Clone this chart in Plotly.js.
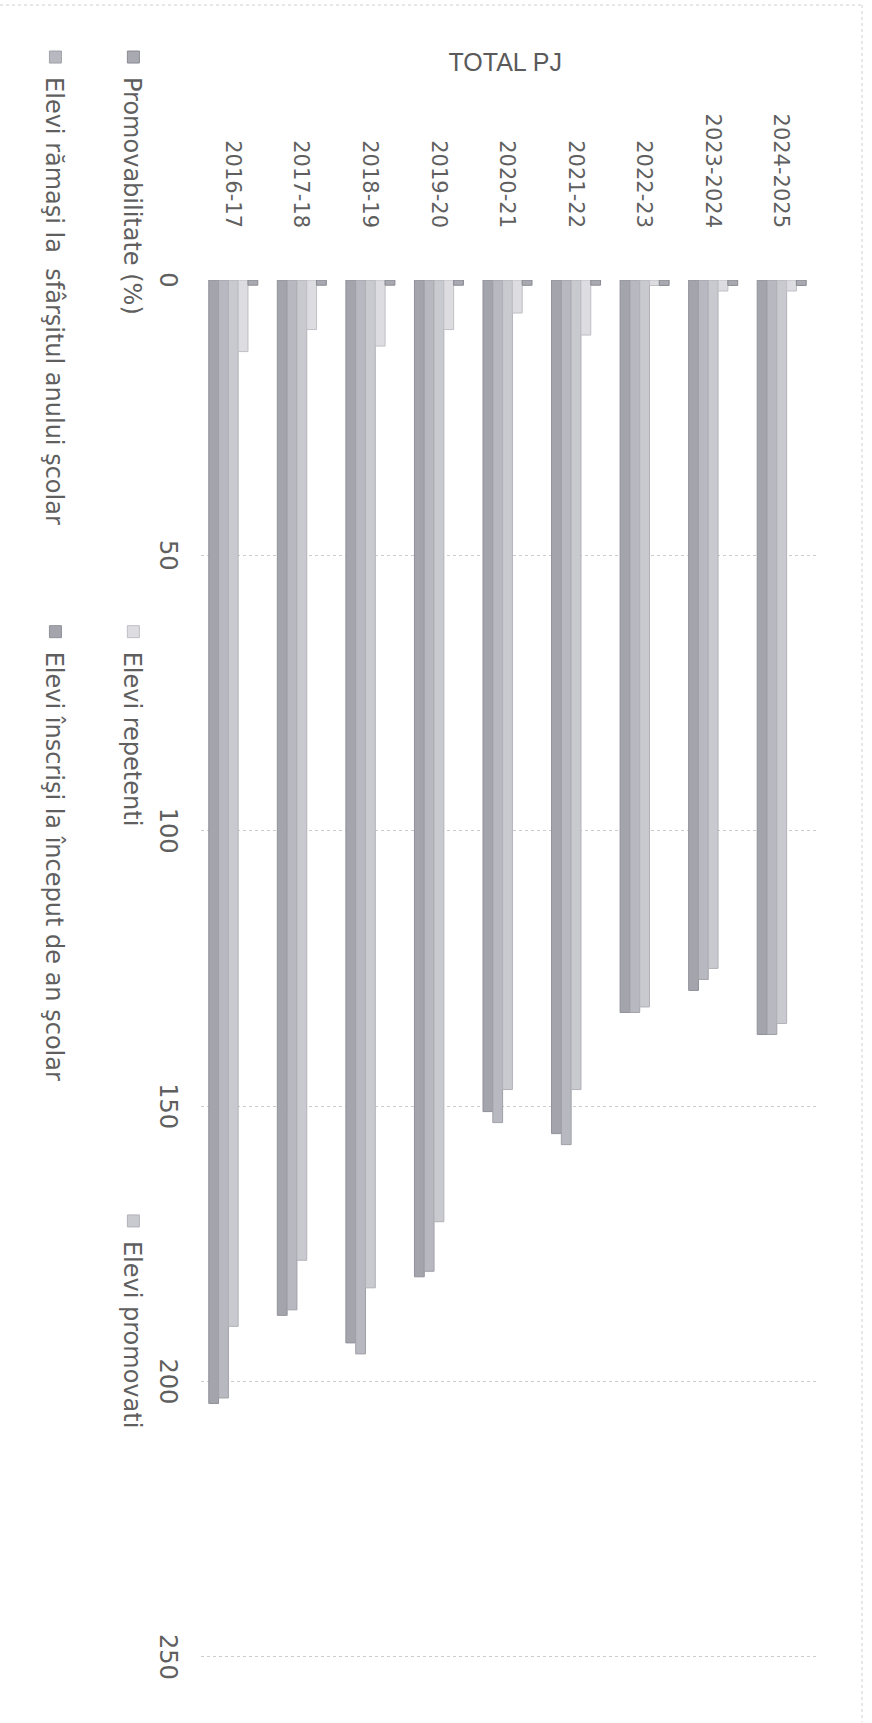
<!DOCTYPE html>
<html>
<head>
<meta charset="utf-8">
<script src="https://cdn.plot.ly/plotly-3.0.1.min.js"></script>
<style>
  html, body { margin: 0; padding: 0; background: #ffffff; overflow: hidden; }
  #wrap { position: absolute; left: 0; top: 0; width: 872px; height: 1723px; overflow: hidden; }
  #chart { position: absolute; left: 0; top: 0; width: 1723px; height: 872px;
           transform-origin: 0 0; transform: translate(872px, 0) rotate(90deg); }
</style>
</head>
<body>
<div id="wrap"><div id="chart"></div></div>
<script>
// ---- data ----
const categories = ['2016-17', '2017-18', '2018-19', '2019-20', '2020-21', '2021-22', '2022-23', '2023-2024', '2024-2025'];
const elevInscrisi   = [204, 188, 193, 181, 151, 155, 133, 129, 137];
const elevRamasi     = [203, 187, 195, 180, 153, 157, 133, 127, 137];
const elevPromovati  = [190, 178, 183, 171, 147, 147, 132, 125, 135];
const elevRepetenti  = [13, 9, 12, 9, 6, 10, 1, 2, 2];
const promovabilitate = [0.94, 0.95, 0.94, 0.95, 0.96, 0.94, 0.99, 0.98, 0.99];
const valueTicks = [0, 50, 100, 150, 200, 250];

const seriesNames = [
  'Elevi înscrişi la început de an şcolar',
  'Elevi rămaşi la  sfârşitul anului şcolar',
  'Elevi promovati',
  'Elevi repetenti',
  'Promovabilitate (%)'
];
const seriesValues = [elevInscrisi, elevRamasi, elevPromovati, elevRepetenti, promovabilitate];
const seriesColors = ['#a4a4ad', '#b8b8c0', '#c9c9d0', '#dcdce1', '#a9a9b1'];
const seriesLines  = ['#90909a', '#a0a0a8', '#b1b1b8', '#bfbfc5', '#8a8a92'];
const legendIds = ['legend5', 'legend4', 'legend3', 'legend2', 'legend'];

const FONT = 'DejaVu Sans, Verdana, sans-serif';
const TXT = '#5f5f5f';

const traces = seriesNames.map((name, i) => ({
  type: 'bar',
  orientation: 'h',
  name: name,
  y: categories,
  x: seriesValues[i],
  marker: { color: seriesColors[i], line: { color: seriesLines[i], width: 1 } },
  legend: legendIds[i],
  hoverinfo: 'x+y+name'
}));

function legendAt(x, y) {
  return {
    xref: 'container', yref: 'container', x: x, y: y,
    xanchor: 'left', yanchor: 'middle',
    bgcolor: 'rgba(0,0,0,0)', borderwidth: 0,
    font: { family: FONT, size: 24, color: TXT },
    itemwidth: 30
  };
}

const layout = {
  width: 1723, height: 872,
  margin: { l: 280, r: 64, t: 56, b: 199, autoexpand: false },
  paper_bgcolor: '#ffffff', plot_bgcolor: '#ffffff',
  barmode: 'group', bargap: 0.285, bargroupgap: 0,
  showlegend: true,
  xaxis: {
    range: [0, 250.4], tickvals: valueTicks, ticktext: valueTicks.map(String),
    showgrid: true, gridcolor: '#cccccc', griddash: 'dot', gridwidth: 1,
    zeroline: false, showline: false, ticks: '', ticklabelstandoff: 14,
    automargin: false,
    tickfont: { family: FONT, size: 24, color: TXT }
  },
  yaxis: {
    type: 'category', categoryorder: 'array', categoryarray: categories,
    showgrid: false, zeroline: false, showline: false, ticks: '',
    ticklabelstandoff: 51, automargin: false,
    tickfont: { family: FONT, size: 21, color: TXT }
  },
  legend:  legendAt(0.0215, 0.1525),
  legend2: legendAt(0.355, 0.1525),
  legend3: legendAt(0.697, 0.1525),
  legend4: legendAt(0.0215, 0.0631),
  legend5: legendAt(0.355, 0.0631),
  annotations: [{
    text: 'TOTAL PJ', xref: 'paper', yref: 'paper', x: -0.170, y: 0.496,
    textangle: -90, showarrow: false,
    font: { family: 'Liberation Sans Narrow, Liberation Sans, sans-serif', size: 25, color: '#5a5a5a' }
  }],
  shapes: [
    { type: 'line', xref: 'paper', yref: 'paper', x0: -0.1994, x1: -0.1994, y0: -0.3225, y1: 1.0746,
      line: { color: '#cfcfcf', width: 1, dash: 'dot' } },
    { type: 'line', xref: 'paper', yref: 'paper', x0: -0.1994, x1: 1.046, y0: 1.0746, y1: 1.0746,
      line: { color: '#cfcfcf', width: 1, dash: 'dot' } }
  ]
};

Plotly.newPlot('chart', traces, layout, { displayModeBar: false, staticPlot: true });
</script>
</body>
</html>
